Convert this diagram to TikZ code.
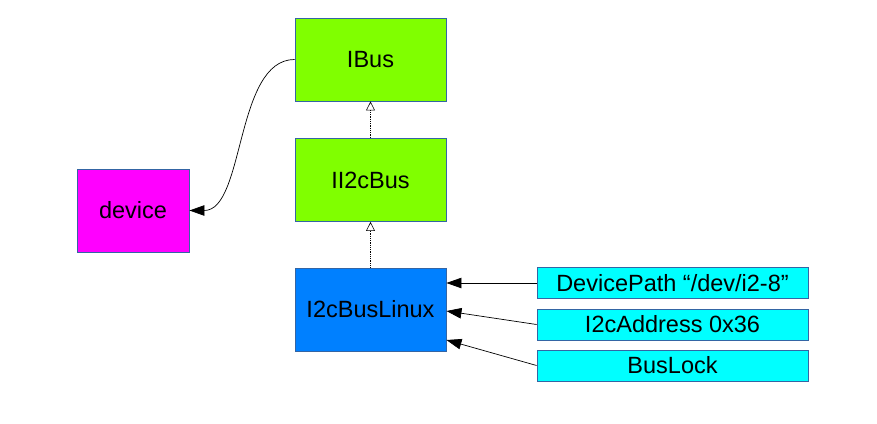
\documentclass[tikz,border=0pt]{standalone}
\usepackage{fontspec}
\setmainfont{Liberation Sans}
\usetikzlibrary{arrows.meta}
\definecolor{bord}{HTML}{3465A4}
\definecolor{lgreen}{HTML}{80FF00}
\definecolor{lmag}{HTML}{FF00FF}
\definecolor{lblue}{HTML}{0080FF}
\definecolor{lcyan}{HTML}{00FFFF}
\tikzset{
  box/.style={draw=bord, line width=0.9pt, inner sep=0pt, font=\fontsize{23.5}{27}\selectfont},
  bigbox/.style={box, minimum width=151pt, minimum height=83pt},
  smallbox/.style={box, fill=lcyan, minimum width=271pt, minimum height=31pt},
  inherit/.style={densely dotted, line width=0.8pt, -{Triangle[open, length=9pt, width=9pt, line width=0.6pt]}},
  assoc/.style={line width=0.7pt, -{Triangle[length=15pt, width=10.5pt]}},
}
\begin{document}
\begin{tikzpicture}[x=1pt, y=-1pt]
\useasboundingbox (0,0) rectangle (877,423);
\node[bigbox, fill=lgreen] (ibus) at (370.5,59.5) {IBus};
\node[bigbox, fill=lgreen] (ii2c) at (370.5,180) {II2cBus};
\node[bigbox, fill=lblue] (linux) at (370.5,309.5) {I2cBusLinux};
\node[box, fill=lmag, minimum width=112pt, minimum height=83pt] (device) at (133,210.5) {device};
\node[smallbox] (path) at (672.5,283) {DevicePath “/dev/i2-8”};
\node[smallbox] (addr) at (672.5,324.5) {I2cAddress 0x36};
\node[smallbox] (lock) at (672.5,365.5) {BusLock};
\draw[inherit] (ii2c.north) -- (ibus.south);
\draw[inherit] (linux.north) -- (ii2c.south);
\draw[assoc] (ibus.west) .. controls (235,59.5) and (245,210.5) .. (device.east);
\draw[assoc] (path.west) -- (linux.east |- path.west);
\draw[assoc] (addr.west) -- ([yshift=-1.5pt]linux.east);
\draw[assoc] (lock.west) -- ([yshift=-30.5pt]linux.east);
\end{tikzpicture}
\end{document}
